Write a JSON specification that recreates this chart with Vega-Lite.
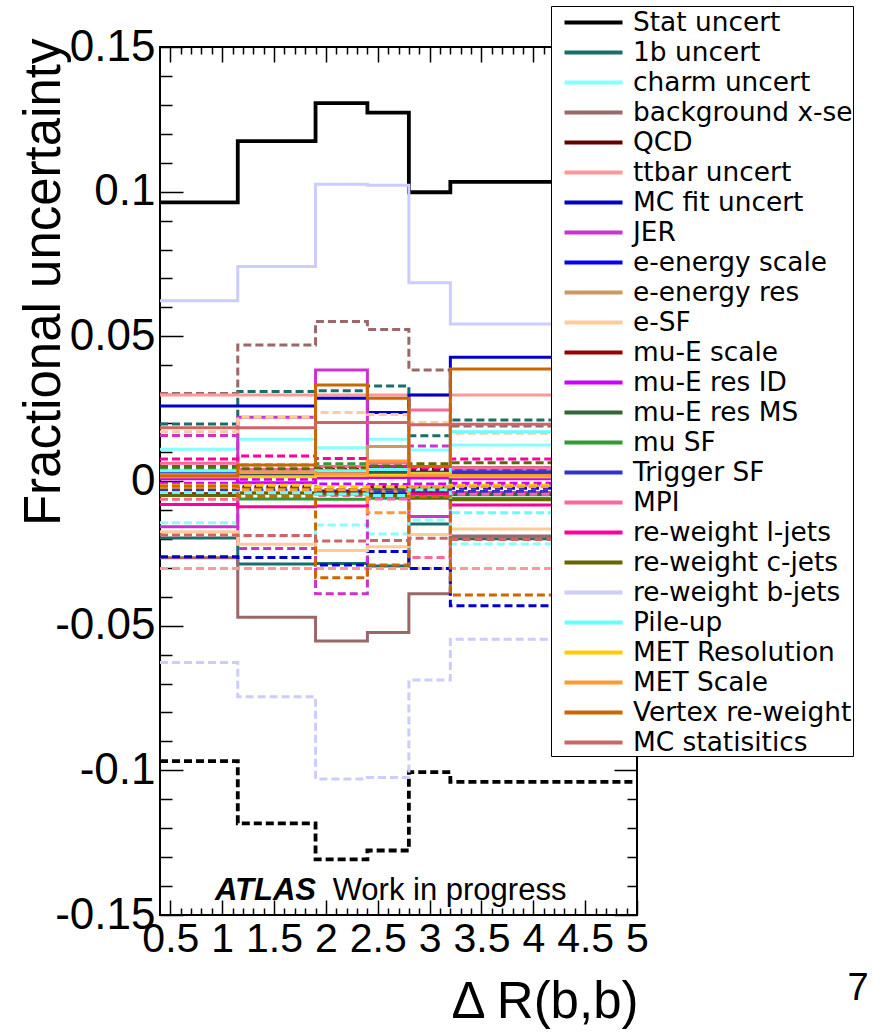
{
"$schema":"https://vega.github.io/schema/vega-lite/v6.json",
"width":477,"height":868,
"autosize":{"type":"none"},
"padding":{"left":160,"top":47,"right":252,"bottom":120},
"background":"white",
"config":{"view":{"stroke":"black","strokeWidth":2},"axis":{"domain":false,"grid":false,"tickColor":"black","tickWidth":1.5,"labelColor":"black","titleColor":"black","labelFontWeight":"normal","titleFontWeight":"normal"}},
"layer":[
{"data":{"values":[
{"s":"Stat uncert","d":"u","x":0.4,"v":0.0963},{"s":"Stat uncert","d":"u","x":1.15,"v":0.1175},{"s":"Stat uncert","d":"u","x":1.9,"v":0.1306},{"s":"Stat uncert","d":"u","x":2.4,"v":0.1273},{"s":"Stat uncert","d":"u","x":2.8,"v":0.0998},{"s":"Stat uncert","d":"u","x":3.2,"v":0.1034},{"s":"Stat uncert","d":"u","x":5,"v":0.1034},
{"s":"Stat uncert","d":"d","x":0.4,"v":-0.0968},{"s":"Stat uncert","d":"d","x":1.15,"v":-0.1183},{"s":"Stat uncert","d":"d","x":1.9,"v":-0.1308},{"s":"Stat uncert","d":"d","x":2.4,"v":-0.1277},{"s":"Stat uncert","d":"d","x":2.8,"v":-0.1006},{"s":"Stat uncert","d":"d","x":3.2,"v":-0.104},{"s":"Stat uncert","d":"d","x":5,"v":-0.104},
{"s":"1b uncert","d":"u","x":0.4,"v":-0.0197},{"s":"1b uncert","d":"u","x":1.15,"v":-0.0287},{"s":"1b uncert","d":"u","x":1.9,"v":-0.0285},{"s":"1b uncert","d":"u","x":2.4,"v":-0.0294},{"s":"1b uncert","d":"u","x":2.8,"v":-0.0149},{"s":"1b uncert","d":"u","x":3.2,"v":-0.02},{"s":"1b uncert","d":"u","x":5,"v":-0.02},
{"s":"1b uncert","d":"d","x":0.4,"v":0.0197},{"s":"1b uncert","d":"d","x":1.15,"v":0.0309},{"s":"1b uncert","d":"d","x":1.9,"v":0.0312},{"s":"1b uncert","d":"d","x":2.4,"v":0.0328},{"s":"1b uncert","d":"d","x":2.8,"v":0.0156},{"s":"1b uncert","d":"d","x":3.2,"v":0.0211},{"s":"1b uncert","d":"d","x":5,"v":0.0211},
{"s":"charm uncert","d":"u","x":0.4,"v":0.011},{"s":"charm uncert","d":"u","x":1.15,"v":0.0144},{"s":"charm uncert","d":"u","x":1.9,"v":0.0115},{"s":"charm uncert","d":"u","x":2.4,"v":0.0144},{"s":"charm uncert","d":"u","x":2.8,"v":0.0107},{"s":"charm uncert","d":"u","x":3.2,"v":0.0124},{"s":"charm uncert","d":"u","x":5,"v":0.0124},
{"s":"charm uncert","d":"d","x":0.4,"v":-0.0144},{"s":"charm uncert","d":"d","x":1.15,"v":-0.019},{"s":"charm uncert","d":"d","x":1.9,"v":-0.0152},{"s":"charm uncert","d":"d","x":2.4,"v":-0.0183},{"s":"charm uncert","d":"d","x":2.8,"v":-0.0135},{"s":"charm uncert","d":"d","x":3.2,"v":-0.0218},{"s":"charm uncert","d":"d","x":5,"v":-0.0218},
{"s":"background x-sec","d":"u","x":0.4,"v":-0.0265},{"s":"background x-sec","d":"u","x":1.15,"v":-0.0471},{"s":"background x-sec","d":"u","x":1.9,"v":-0.0553},{"s":"background x-sec","d":"u","x":2.4,"v":-0.0524},{"s":"background x-sec","d":"u","x":2.8,"v":-0.039},{"s":"background x-sec","d":"u","x":3.2,"v":-0.019},{"s":"background x-sec","d":"u","x":5,"v":-0.019},
{"s":"background x-sec","d":"d","x":0.4,"v":0.0302},{"s":"background x-sec","d":"d","x":1.15,"v":0.047},{"s":"background x-sec","d":"d","x":1.9,"v":0.0551},{"s":"background x-sec","d":"d","x":2.4,"v":0.0524},{"s":"background x-sec","d":"d","x":2.8,"v":0.0384},{"s":"background x-sec","d":"d","x":3.2,"v":0.019},{"s":"background x-sec","d":"d","x":5,"v":0.019},
{"s":"QCD","d":"u","x":0.4,"v":-0.0044},{"s":"QCD","d":"u","x":1.15,"v":-0.004},{"s":"QCD","d":"u","x":1.9,"v":-0.004},{"s":"QCD","d":"u","x":2.4,"v":-0.0045},{"s":"QCD","d":"u","x":2.8,"v":-0.004},{"s":"QCD","d":"u","x":3.2,"v":-0.0047},{"s":"QCD","d":"u","x":5,"v":-0.0047},
{"s":"QCD","d":"d","x":0.4,"v":0.0044},{"s":"QCD","d":"d","x":1.15,"v":0.004},{"s":"QCD","d":"d","x":1.9,"v":0.004},{"s":"QCD","d":"d","x":2.4,"v":0.0045},{"s":"QCD","d":"d","x":2.8,"v":0.004},{"s":"QCD","d":"d","x":3.2,"v":0.0047},{"s":"QCD","d":"d","x":5,"v":0.0047},
{"s":"ttbar uncert","d":"u","x":0.4,"v":0.0297},{"s":"ttbar uncert","d":"u","x":1.15,"v":0.0297},{"s":"ttbar uncert","d":"u","x":1.9,"v":0.0297},{"s":"ttbar uncert","d":"u","x":2.4,"v":0.0297},{"s":"ttbar uncert","d":"u","x":2.8,"v":0.0297},{"s":"ttbar uncert","d":"u","x":3.2,"v":0.0297},{"s":"ttbar uncert","d":"u","x":5,"v":0.0297},
{"s":"ttbar uncert","d":"d","x":0.4,"v":-0.0302},{"s":"ttbar uncert","d":"d","x":1.15,"v":-0.0302},{"s":"ttbar uncert","d":"d","x":1.9,"v":-0.0302},{"s":"ttbar uncert","d":"d","x":2.4,"v":-0.0302},{"s":"ttbar uncert","d":"d","x":2.8,"v":-0.0302},{"s":"ttbar uncert","d":"d","x":3.2,"v":-0.0302},{"s":"ttbar uncert","d":"d","x":5,"v":-0.0302},
{"s":"MC fit uncert","d":"u","x":0.4,"v":0.0259},{"s":"MC fit uncert","d":"u","x":1.15,"v":0.0259},{"s":"MC fit uncert","d":"u","x":1.9,"v":0.0286},{"s":"MC fit uncert","d":"u","x":2.4,"v":0.0237},{"s":"MC fit uncert","d":"u","x":2.8,"v":0.0297},{"s":"MC fit uncert","d":"u","x":3.2,"v":0.0428},{"s":"MC fit uncert","d":"u","x":5,"v":0.0428},
{"s":"MC fit uncert","d":"d","x":0.4,"v":-0.0262},{"s":"MC fit uncert","d":"d","x":1.15,"v":-0.0264},{"s":"MC fit uncert","d":"d","x":1.9,"v":-0.029},{"s":"MC fit uncert","d":"d","x":2.4,"v":-0.0244},{"s":"MC fit uncert","d":"d","x":2.8,"v":-0.0302},{"s":"MC fit uncert","d":"d","x":3.2,"v":-0.0431},{"s":"MC fit uncert","d":"d","x":5,"v":-0.0431},
{"s":"JER","d":"u","x":0.4,"v":-0.0158},{"s":"JER","d":"u","x":1.15,"v":0.022},{"s":"JER","d":"u","x":1.9,"v":0.0384},{"s":"JER","d":"u","x":2.4,"v":0.003},{"s":"JER","d":"u","x":2.8,"v":-0.0123},{"s":"JER","d":"u","x":3.2,"v":-0.004},{"s":"JER","d":"u","x":5,"v":-0.004},
{"s":"JER","d":"d","x":0.4,"v":0.0157},{"s":"JER","d":"d","x":1.15,"v":-0.0233},{"s":"JER","d":"d","x":1.9,"v":-0.039},{"s":"JER","d":"d","x":2.4,"v":-0.003},{"s":"JER","d":"d","x":2.8,"v":0.0121},{"s":"JER","d":"d","x":3.2,"v":0.004},{"s":"JER","d":"d","x":5,"v":0.004},
{"s":"e-energy scale","d":"u","x":0.4,"v":0.002},{"s":"e-energy scale","d":"u","x":1.15,"v":0.0025},{"s":"e-energy scale","d":"u","x":1.9,"v":0.003},{"s":"e-energy scale","d":"u","x":2.4,"v":0.0045},{"s":"e-energy scale","d":"u","x":2.8,"v":0.0028},{"s":"e-energy scale","d":"u","x":3.2,"v":0.0025},{"s":"e-energy scale","d":"u","x":5,"v":0.0025},
{"s":"e-energy scale","d":"d","x":0.4,"v":-0.002},{"s":"e-energy scale","d":"d","x":1.15,"v":-0.0025},{"s":"e-energy scale","d":"d","x":1.9,"v":-0.003},{"s":"e-energy scale","d":"d","x":2.4,"v":-0.0045},{"s":"e-energy scale","d":"d","x":2.8,"v":-0.0028},{"s":"e-energy scale","d":"d","x":3.2,"v":-0.0025},{"s":"e-energy scale","d":"d","x":5,"v":-0.0025},
{"s":"e-energy res","d":"u","x":0.4,"v":0.0015},{"s":"e-energy res","d":"u","x":1.15,"v":0.002},{"s":"e-energy res","d":"u","x":1.9,"v":0.003},{"s":"e-energy res","d":"u","x":2.4,"v":0.0119},{"s":"e-energy res","d":"u","x":2.8,"v":0.002},{"s":"e-energy res","d":"u","x":3.2,"v":0.0015},{"s":"e-energy res","d":"u","x":5,"v":0.0015},
{"s":"e-energy res","d":"d","x":0.4,"v":-0.0015},{"s":"e-energy res","d":"d","x":1.15,"v":-0.002},{"s":"e-energy res","d":"d","x":1.9,"v":-0.003},{"s":"e-energy res","d":"d","x":2.4,"v":-0.0035},{"s":"e-energy res","d":"d","x":2.8,"v":-0.002},{"s":"e-energy res","d":"d","x":3.2,"v":-0.0015},{"s":"e-energy res","d":"d","x":5,"v":-0.0015},
{"s":"e-SF","d":"u","x":0.4,"v":-0.0175},{"s":"e-SF","d":"u","x":1.15,"v":-0.0219},{"s":"e-SF","d":"u","x":1.9,"v":-0.024},{"s":"e-SF","d":"u","x":2.4,"v":-0.0227},{"s":"e-SF","d":"u","x":2.8,"v":-0.0185},{"s":"e-SF","d":"u","x":3.2,"v":-0.0166},{"s":"e-SF","d":"u","x":5,"v":-0.0166},
{"s":"e-SF","d":"d","x":0.4,"v":0.017},{"s":"e-SF","d":"d","x":1.15,"v":0.022},{"s":"e-SF","d":"d","x":1.9,"v":0.0237},{"s":"e-SF","d":"d","x":2.4,"v":0.023},{"s":"e-SF","d":"d","x":2.8,"v":0.0202},{"s":"e-SF","d":"d","x":3.2,"v":0.0165},{"s":"e-SF","d":"d","x":5,"v":0.0165},
{"s":"mu-E scale","d":"u","x":0.4,"v":0.0025},{"s":"mu-E scale","d":"u","x":1.15,"v":0.002},{"s":"mu-E scale","d":"u","x":1.9,"v":0.0035},{"s":"mu-E scale","d":"u","x":2.4,"v":0.002},{"s":"mu-E scale","d":"u","x":2.8,"v":0.0025},{"s":"mu-E scale","d":"u","x":3.2,"v":0.0045},{"s":"mu-E scale","d":"u","x":5,"v":0.0045},
{"s":"mu-E scale","d":"d","x":0.4,"v":-0.0025},{"s":"mu-E scale","d":"d","x":1.15,"v":-0.002},{"s":"mu-E scale","d":"d","x":1.9,"v":-0.0035},{"s":"mu-E scale","d":"d","x":2.4,"v":-0.002},{"s":"mu-E scale","d":"d","x":2.8,"v":-0.0025},{"s":"mu-E scale","d":"d","x":3.2,"v":-0.0045},{"s":"mu-E scale","d":"d","x":5,"v":-0.0045},
{"s":"mu-E res ID","d":"u","x":0.4,"v":0.0008},{"s":"mu-E res ID","d":"u","x":1.15,"v":-0.0006},{"s":"mu-E res ID","d":"u","x":1.9,"v":0.001},{"s":"mu-E res ID","d":"u","x":2.4,"v":0.0012},{"s":"mu-E res ID","d":"u","x":2.8,"v":0.001},{"s":"mu-E res ID","d":"u","x":3.2,"v":0.0008},{"s":"mu-E res ID","d":"u","x":5,"v":0.0008},
{"s":"mu-E res ID","d":"d","x":0.4,"v":-0.0008},{"s":"mu-E res ID","d":"d","x":1.15,"v":0.0006},{"s":"mu-E res ID","d":"d","x":1.9,"v":-0.001},{"s":"mu-E res ID","d":"d","x":2.4,"v":-0.0012},{"s":"mu-E res ID","d":"d","x":2.8,"v":-0.001},{"s":"mu-E res ID","d":"d","x":3.2,"v":-0.0008},{"s":"mu-E res ID","d":"d","x":5,"v":-0.0008},
{"s":"mu-E res MS","d":"u","x":0.4,"v":0.003},{"s":"mu-E res MS","d":"u","x":1.15,"v":0.0025},{"s":"mu-E res MS","d":"u","x":1.9,"v":0.003},{"s":"mu-E res MS","d":"u","x":2.4,"v":0.0028},{"s":"mu-E res MS","d":"u","x":2.8,"v":0.003},{"s":"mu-E res MS","d":"u","x":3.2,"v":-0.0047},{"s":"mu-E res MS","d":"u","x":5,"v":-0.0047},
{"s":"mu-E res MS","d":"d","x":0.4,"v":-0.003},{"s":"mu-E res MS","d":"d","x":1.15,"v":-0.0025},{"s":"mu-E res MS","d":"d","x":1.9,"v":-0.003},{"s":"mu-E res MS","d":"d","x":2.4,"v":-0.0028},{"s":"mu-E res MS","d":"d","x":2.8,"v":-0.003},{"s":"mu-E res MS","d":"d","x":3.2,"v":0.0047},{"s":"mu-E res MS","d":"d","x":5,"v":0.0047},
{"s":"mu SF","d":"u","x":0.4,"v":-0.0048},{"s":"mu SF","d":"u","x":1.15,"v":-0.0062},{"s":"mu SF","d":"u","x":1.9,"v":-0.0063},{"s":"mu SF","d":"u","x":2.4,"v":-0.006},{"s":"mu SF","d":"u","x":2.8,"v":-0.0055},{"s":"mu SF","d":"u","x":3.2,"v":-0.006},{"s":"mu SF","d":"u","x":5,"v":-0.006},
{"s":"mu SF","d":"d","x":0.4,"v":0.0044},{"s":"mu SF","d":"d","x":1.15,"v":0.0055},{"s":"mu SF","d":"d","x":1.9,"v":0.006},{"s":"mu SF","d":"d","x":2.4,"v":0.0055},{"s":"mu SF","d":"d","x":2.8,"v":0.005},{"s":"mu SF","d":"d","x":3.2,"v":0.0047},{"s":"mu SF","d":"d","x":5,"v":0.0047},
{"s":"Trigger SF","d":"u","x":0.4,"v":0.003},{"s":"Trigger SF","d":"u","x":1.15,"v":0.0028},{"s":"Trigger SF","d":"u","x":1.9,"v":0.003},{"s":"Trigger SF","d":"u","x":2.4,"v":0.0035},{"s":"Trigger SF","d":"u","x":2.8,"v":0.003},{"s":"Trigger SF","d":"u","x":3.2,"v":0.0032},{"s":"Trigger SF","d":"u","x":5,"v":0.0032},
{"s":"Trigger SF","d":"d","x":0.4,"v":-0.0034},{"s":"Trigger SF","d":"d","x":1.15,"v":-0.0032},{"s":"Trigger SF","d":"d","x":1.9,"v":-0.0034},{"s":"Trigger SF","d":"d","x":2.4,"v":-0.0038},{"s":"Trigger SF","d":"d","x":2.8,"v":-0.0034},{"s":"Trigger SF","d":"d","x":3.2,"v":-0.0036},{"s":"Trigger SF","d":"d","x":5,"v":-0.0036},
{"s":"MPI","d":"u","x":0.4,"v":0.0061},{"s":"MPI","d":"u","x":1.15,"v":0.004},{"s":"MPI","d":"u","x":1.9,"v":0.005},{"s":"MPI","d":"u","x":2.4,"v":0.0062},{"s":"MPI","d":"u","x":2.8,"v":0.0245},{"s":"MPI","d":"u","x":3.2,"v":0.0046},{"s":"MPI","d":"u","x":5,"v":0.0046},
{"s":"MPI","d":"d","x":0.4,"v":-0.0063},{"s":"MPI","d":"d","x":1.15,"v":-0.004},{"s":"MPI","d":"d","x":1.9,"v":-0.005},{"s":"MPI","d":"d","x":2.4,"v":-0.0062},{"s":"MPI","d":"d","x":2.8,"v":-0.0264},{"s":"MPI","d":"d","x":3.2,"v":-0.0046},{"s":"MPI","d":"d","x":5,"v":-0.0046},
{"s":"re-weight l-jets","d":"u","x":0.4,"v":-0.0081},{"s":"re-weight l-jets","d":"u","x":1.15,"v":-0.0089},{"s":"re-weight l-jets","d":"u","x":1.9,"v":-0.0086},{"s":"re-weight l-jets","d":"u","x":2.4,"v":-0.005},{"s":"re-weight l-jets","d":"u","x":2.8,"v":-0.0045},{"s":"re-weight l-jets","d":"u","x":3.2,"v":-0.0083},{"s":"re-weight l-jets","d":"u","x":5,"v":-0.0083},
{"s":"re-weight l-jets","d":"d","x":0.4,"v":0.0076},{"s":"re-weight l-jets","d":"d","x":1.15,"v":0.0086},{"s":"re-weight l-jets","d":"d","x":1.9,"v":0.0078},{"s":"re-weight l-jets","d":"d","x":2.4,"v":0.005},{"s":"re-weight l-jets","d":"d","x":2.8,"v":0.0045},{"s":"re-weight l-jets","d":"d","x":3.2,"v":0.0076},{"s":"re-weight l-jets","d":"d","x":5,"v":0.0076},
{"s":"re-weight c-jets","d":"u","x":0.4,"v":-0.005},{"s":"re-weight c-jets","d":"u","x":1.15,"v":-0.0042},{"s":"re-weight c-jets","d":"u","x":1.9,"v":-0.0045},{"s":"re-weight c-jets","d":"u","x":2.4,"v":-0.005},{"s":"re-weight c-jets","d":"u","x":2.8,"v":-0.006},{"s":"re-weight c-jets","d":"u","x":3.2,"v":-0.0065},{"s":"re-weight c-jets","d":"u","x":5,"v":-0.0065},
{"s":"re-weight c-jets","d":"d","x":0.4,"v":0.005},{"s":"re-weight c-jets","d":"d","x":1.15,"v":0.0042},{"s":"re-weight c-jets","d":"d","x":1.9,"v":0.0045},{"s":"re-weight c-jets","d":"d","x":2.4,"v":0.005},{"s":"re-weight c-jets","d":"d","x":2.8,"v":0.006},{"s":"re-weight c-jets","d":"d","x":3.2,"v":0.0063},{"s":"re-weight c-jets","d":"d","x":5,"v":0.0063},
{"s":"re-weight b-jets","d":"u","x":0.4,"v":0.0623},{"s":"re-weight b-jets","d":"u","x":1.15,"v":0.0741},{"s":"re-weight b-jets","d":"u","x":1.9,"v":0.1026},{"s":"re-weight b-jets","d":"u","x":2.4,"v":0.1022},{"s":"re-weight b-jets","d":"u","x":2.8,"v":0.0685},{"s":"re-weight b-jets","d":"u","x":3.2,"v":0.0543},{"s":"re-weight b-jets","d":"u","x":5,"v":0.0543},
{"s":"re-weight b-jets","d":"d","x":0.4,"v":-0.0627},{"s":"re-weight b-jets","d":"d","x":1.15,"v":-0.0746},{"s":"re-weight b-jets","d":"d","x":1.9,"v":-0.103},{"s":"re-weight b-jets","d":"d","x":2.4,"v":-0.1025},{"s":"re-weight b-jets","d":"d","x":2.8,"v":-0.0688},{"s":"re-weight b-jets","d":"d","x":3.2,"v":-0.0547},{"s":"re-weight b-jets","d":"d","x":5,"v":-0.0547},
{"s":"Pile-up","d":"u","x":0.4,"v":0.0035},{"s":"Pile-up","d":"u","x":1.15,"v":0.003},{"s":"Pile-up","d":"u","x":1.9,"v":0.0035},{"s":"Pile-up","d":"u","x":2.4,"v":0.004},{"s":"Pile-up","d":"u","x":2.8,"v":0.0025},{"s":"Pile-up","d":"u","x":3.2,"v":0.017},{"s":"Pile-up","d":"u","x":5,"v":0.017},
{"s":"Pile-up","d":"d","x":0.4,"v":-0.004},{"s":"Pile-up","d":"d","x":1.15,"v":-0.004},{"s":"Pile-up","d":"d","x":1.9,"v":-0.0045},{"s":"Pile-up","d":"d","x":2.4,"v":-0.005},{"s":"Pile-up","d":"d","x":2.8,"v":-0.003},{"s":"Pile-up","d":"d","x":3.2,"v":-0.011},{"s":"Pile-up","d":"d","x":5,"v":-0.011},
{"s":"MET Resolution","d":"u","x":0.4,"v":0.0015},{"s":"MET Resolution","d":"u","x":1.15,"v":0.0015},{"s":"MET Resolution","d":"u","x":1.9,"v":0.002},{"s":"MET Resolution","d":"u","x":2.4,"v":0.002},{"s":"MET Resolution","d":"u","x":2.8,"v":0.0025},{"s":"MET Resolution","d":"u","x":3.2,"v":0.0015},{"s":"MET Resolution","d":"u","x":5,"v":0.0015},
{"s":"MET Resolution","d":"d","x":0.4,"v":-0.0015},{"s":"MET Resolution","d":"d","x":1.15,"v":-0.0015},{"s":"MET Resolution","d":"d","x":1.9,"v":-0.002},{"s":"MET Resolution","d":"d","x":2.4,"v":-0.002},{"s":"MET Resolution","d":"d","x":2.8,"v":-0.002},{"s":"MET Resolution","d":"d","x":3.2,"v":-0.0015},{"s":"MET Resolution","d":"d","x":5,"v":-0.0015},
{"s":"MET Scale","d":"u","x":0.4,"v":0.0022},{"s":"MET Scale","d":"u","x":1.15,"v":0.003},{"s":"MET Scale","d":"u","x":1.9,"v":0.0025},{"s":"MET Scale","d":"u","x":2.4,"v":0.0069},{"s":"MET Scale","d":"u","x":2.8,"v":0.002},{"s":"MET Scale","d":"u","x":3.2,"v":0.002},{"s":"MET Scale","d":"u","x":5,"v":0.002},
{"s":"MET Scale","d":"d","x":0.4,"v":-0.0022},{"s":"MET Scale","d":"d","x":1.15,"v":-0.003},{"s":"MET Scale","d":"d","x":1.9,"v":-0.003},{"s":"MET Scale","d":"d","x":2.4,"v":-0.011},{"s":"MET Scale","d":"d","x":2.8,"v":-0.002},{"s":"MET Scale","d":"d","x":3.2,"v":-0.002},{"s":"MET Scale","d":"d","x":5,"v":-0.002},
{"s":"Vertex re-weight","d":"u","x":0.4,"v":0.0017},{"s":"Vertex re-weight","d":"u","x":1.15,"v":0.0055},{"s":"Vertex re-weight","d":"u","x":1.9,"v":0.0332},{"s":"Vertex re-weight","d":"u","x":2.4,"v":0.0286},{"s":"Vertex re-weight","d":"u","x":2.8,"v":0.005},{"s":"Vertex re-weight","d":"u","x":3.2,"v":0.0387},{"s":"Vertex re-weight","d":"u","x":5,"v":0.0387},
{"s":"Vertex re-weight","d":"d","x":0.4,"v":-0.0017},{"s":"Vertex re-weight","d":"d","x":1.15,"v":-0.0054},{"s":"Vertex re-weight","d":"d","x":1.9,"v":-0.0334},{"s":"Vertex re-weight","d":"d","x":2.4,"v":-0.029},{"s":"Vertex re-weight","d":"d","x":2.8,"v":-0.0054},{"s":"Vertex re-weight","d":"d","x":3.2,"v":-0.0394},{"s":"Vertex re-weight","d":"d","x":5,"v":-0.0394},
{"s":"MC statisitics","d":"u","x":0.4,"v":0.0184},{"s":"MC statisitics","d":"u","x":1.15,"v":0.0184},{"s":"MC statisitics","d":"u","x":1.9,"v":0.0202},{"s":"MC statisitics","d":"u","x":2.4,"v":0.0202},{"s":"MC statisitics","d":"u","x":2.8,"v":0.0194},{"s":"MC statisitics","d":"u","x":3.2,"v":0.0196},{"s":"MC statisitics","d":"u","x":5,"v":0.0196},
{"s":"MC statisitics","d":"d","x":0.4,"v":-0.0187},{"s":"MC statisitics","d":"d","x":1.15,"v":-0.0188},{"s":"MC statisitics","d":"d","x":1.9,"v":-0.0207},{"s":"MC statisitics","d":"d","x":2.4,"v":-0.0206},{"s":"MC statisitics","d":"d","x":2.8,"v":-0.0198},{"s":"MC statisitics","d":"d","x":3.2,"v":-0.0202},{"s":"MC statisitics","d":"d","x":5,"v":-0.0202}
]},
"mark":{"type":"line","interpolate":"step-after"},
"encoding":{
"x":{"field":"x","type":"quantitative","scale":{"domain":[0.4,5],"nice":false,"zero":false},
 "axis":{"orient":"bottom","values":[0.5,0.6,0.7,0.8,0.9,1,1.1,1.2,1.3,1.4,1.5,1.6,1.7,1.8,1.9,2,2.1,2.2,2.3,2.4,2.5,2.6,2.7,2.8,2.9,3,3.1,3.2,3.3,3.4,3.5,3.6,3.7,3.8,3.9,4,4.1,4.2,4.3,4.4,4.5,4.6,4.7,4.8,4.9,5],
 "tickSize":{"condition":{"test":"indexof([0.5,1,1.5,2,2.5,3,3.5,4,4.5,5],datum.value)>=0","value":-15},"value":-7},
 "labelExpr":"indexof([0.5,1,1.5,2,2.5,3,3.5,4,4.5,5],datum.value)>=0 ? ''+datum.value : ''",
 "labelFont":"Liberation Sans","labelFontSize":41,"labelPadding":19,"labelOverlap":false,"labelFlush":false,"labelBaseline":"top",
 "title":"Δ R(b,b)","titleFont":"Liberation Sans","titleFontSize":51,"titleX":478,"titleY":102,"titleAlign":"right","titleBaseline":"alphabetic","titleAnchor":"end"}},
"y":{"field":"v","type":"quantitative","scale":{"domain":[-0.15,0.15],"nice":false,"zero":false},
 "axis":{"orient":"left","values":[-0.15,-0.14,-0.13,-0.12,-0.11,-0.1,-0.09,-0.08,-0.07,-0.06,-0.05,-0.04,-0.03,-0.02,-0.01,0,0.01,0.02,0.03,0.04,0.05,0.06,0.07,0.08,0.09,0.1,0.11,0.12,0.13,0.14,0.15],
 "tickSize":{"condition":{"test":"indexof([-0.15,-0.1,-0.05,0,0.05,0.1,0.15],datum.value)>=0","value":-23},"value":-12},
 "labelExpr":"indexof([-0.15,-0.1,-0.05,0,0.05,0.1,0.15],datum.value)>=0 ? ''+datum.value : ''",
 "labelFont":"Liberation Sans","labelFontSize":44,"labelPadding":28,"labelBaseline":"middle","labelOverlap":false,"labelFlush":false,
 "title":"Fractional uncertainty","titleFont":"Liberation Sans","titleFontSize":51,"titleX":-101,"titleY":-9,"titleAlign":"right","titleBaseline":"alphabetic","titleAngle":270}},
"color":{"field":"s","type":"nominal","scale":{"domain":["Stat uncert","1b uncert","charm uncert","background x-sec","QCD","ttbar uncert","MC fit uncert","JER","e-energy scale","e-energy res","e-SF","mu-E scale","mu-E res ID","mu-E res MS","mu SF","Trigger SF","MPI","re-weight l-jets","re-weight c-jets","re-weight b-jets","Pile-up","MET Resolution","MET Scale","Vertex re-weight","MC statisitics"],"range":["#000000","#1a6e69","#88ffff","#9a6868","#660000","#ff9999","#0000cc","#cc33cc","#0000ff","#cc9966","#ffcc99","#990000","#cc00ff","#336633","#339933","#3333cc","#ff6699","#ff0099","#666600","#ccccff","#66ffff","#ffcc00","#ff9933","#cc6600","#cc6666"]},
 "legend":{"orient":"none","legendX":391,"legendY":-41,"title":null,"symbolType":"M-2,0H2","symbolSize":841,"symbolStrokeWidth":4,"labelFontSize":26.4,"labelFont":"DejaVu Sans","labelColor":"black","labelLimit":400,"fillColor":"white","strokeColor":"black","padding":0,"symbolOffset":26,"labelOffset":23,"rowPadding":0,"labelExpr":"datum.label == 'background x-sec' ? 'background x-se' : datum.label"}},
"strokeDash":{"field":"d","type":"nominal","scale":{"domain":["u","d"],"range":[[1,0],[8,4]]},"legend":null},
"strokeWidth":{"condition":{"test":"datum.s == 'Stat uncert'","value":3.8},"value":3}
}},
{"encoding":{
"x":{"field":"x","type":"quantitative","scale":{"domain":[0.4,5],"nice":false,"zero":false},
 "axis":{"orient":"top","values":[0.5,0.6,0.7,0.8,0.9,1,1.1,1.2,1.3,1.4,1.5,1.6,1.7,1.8,1.9,2,2.1,2.2,2.3,2.4,2.5,2.6,2.7,2.8,2.9,3,3.1,3.2,3.3,3.4,3.5,3.6,3.7,3.8,3.9,4,4.1,4.2,4.3,4.4,4.5,4.6,4.7,4.8,4.9,5],
 "tickSize":{"condition":{"test":"indexof([0.5,1,1.5,2,2.5,3,3.5,4,4.5,5],datum.value)>=0","value":-15},"value":-7},"labels":false,"title":null}},
"y":{"field":"v","type":"quantitative","scale":{"domain":[-0.15,0.15],"nice":false,"zero":false},
 "axis":{"orient":"right","values":[-0.15,-0.14,-0.13,-0.12,-0.11,-0.1,-0.09,-0.08,-0.07,-0.06,-0.05,-0.04,-0.03,-0.02,-0.01,0,0.01,0.02,0.03,0.04,0.05,0.06,0.07,0.08,0.09,0.1,0.11,0.12,0.13,0.14,0.15],
 "tickSize":{"condition":{"test":"indexof([-0.15,-0.1,-0.05,0,0.05,0.1,0.15],datum.value)>=0","value":-23},"value":-10},"labels":false,"title":null}},
"text":{"field":"t"}},
"layer":[
{"data":{"values":[{"t":"ATLAS","x":0.93,"v":-0.1448}]},"mark":{"type":"text","font":"Liberation Sans","fontSize":31,"fontWeight":"bold","fontStyle":"italic","align":"left","baseline":"alphabetic","color":"black"}},
{"data":{"values":[{"t":"Work in progress","x":2.065,"v":-0.1448}]},"mark":{"type":"text","font":"Liberation Sans","fontSize":31,"align":"left","baseline":"alphabetic","color":"black"}},
{"data":{"values":[{"t":"7","x":7.131,"v":-0.1794}]},"mark":{"type":"text","font":"Liberation Sans","fontSize":38,"align":"center","baseline":"alphabetic","color":"black"}}
]}
],
"resolve":{"axis":{"x":"independent","y":"independent"}}
}
